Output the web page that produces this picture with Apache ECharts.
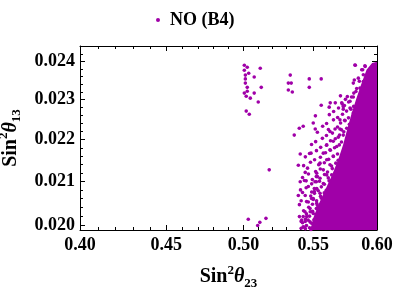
<!DOCTYPE html>
<html><head><meta charset="utf-8">
<script src="https://cdn.jsdelivr.net/npm/echarts@6/dist/echarts.min.js"></script>
<style>html,body{margin:0;padding:0;background:#fff}#c{width:396px;height:290px}</style>
</head><body><div id="c"></div>
<script>
const seriesName = 'NO (B4)';
const xRange = [0.40, 0.60];
const yRange = [0.01989, 0.02442];
const xMajorTicks = [0.40, 0.45, 0.50, 0.55, 0.60];
const xMinorTicks = [0.41,0.42,0.43,0.44,0.46,0.47,0.48,0.49,0.51,0.52,0.53,0.54,0.56,0.57,0.58,0.59];
const yMajorTicks = [0.020, 0.021, 0.022, 0.023, 0.024];
const yMinorTicks = [0.0202,0.0204,0.0206,0.0208,0.0212,0.0214,0.0216,0.0218,0.0222,0.0224,0.0226,0.0228,0.0232,0.0234,0.0236,0.0238,0.0242,0.0244];

// isolated points
const outlierPoints = [
 [0.5006,0.02390],[0.5026,0.02385],[0.5006,0.02377],[0.5116,0.02382],[0.5036,0.02369],
 [0.5013,0.02364],[0.5074,0.02359],[0.5013,0.02354],[0.5013,0.02343],[0.5026,0.02332],
 [0.5123,0.02332],[0.5026,0.02322],[0.5006,0.02317],[0.5074,0.02317],[0.5019,0.02309],
 [0.5047,0.02304],[0.5102,0.02294],[0.5019,0.02271],[0.5040,0.02263],
 [0.5330,0.02364],[0.5316,0.02343],[0.5337,0.02343],[0.5316,0.02325],[0.5345,0.02320],
 [0.5470,0.02354],[0.5470,0.02332],[0.5560,0.02354],[0.5560,0.02286],[0.5629,0.02292],
 [0.5621,0.02281],[0.5825,0.02390],[0.5817,0.02351],[0.5722,0.02289],[0.5730,0.02276],
 [0.5516,0.02259],[0.5425,0.02233],[0.5396,0.02228],[0.5500,0.02241],[0.5515,0.02226],
 [0.5359,0.02211],[0.5179,0.02127],[0.5403,0.02165],[0.5483,0.02167],[0.5389,0.02138],
 [0.5440,0.02121],[0.5523,0.02111],[0.5546,0.02141],
 [0.5403,0.02099],[0.5447,0.02101],[0.5493,0.02104],[0.5523,0.02099],[0.5447,0.02085],
 [0.5508,0.02083],[0.5508,0.02076],[0.5538,0.02078],[0.5389,0.02067],[0.5440,0.02067],
 [0.5410,0.02055],[0.5500,0.02058],[0.5530,0.02045],[0.5523,0.02037],[0.5477,0.02030],
 [0.5493,0.02030],[0.5425,0.02019],[0.5410,0.02008],[0.5440,0.02008],[0.5462,0.02011],
 [0.5523,0.02019],[0.5033,0.02013],[0.5113,0.02006],[0.5098,0.01999],[0.5156,0.02015],
 [0.5410,0.01993],[0.5432,0.01995],[0.5483,0.01990]
];
// points along the edge of the dense cloud
const edgePoints = [
 [0.5762,0.02308],[0.5813,0.02317],[0.5718,0.02292],[0.5730,0.02283],[0.5783,0.02279],
 [0.5809,0.02266],[0.5704,0.02249],[0.5744,0.02247],[0.5666,0.02226],[0.5704,0.02226],
 [0.5627,0.02220],[0.5691,0.02206],[0.5730,0.02211],[0.5652,0.02196],[0.5602,0.02187],
 [0.5679,0.02183],[0.5627,0.02175],[0.5576,0.02167],[0.5652,0.02160],[0.5602,0.02151],
 [0.5551,0.02143],[0.5627,0.02139],[0.5576,0.02127],[0.5526,0.02119],[0.5602,0.02115],
 [0.5551,0.02107],[0.5513,0.02099],[0.5576,0.02095],[0.5526,0.02083],[0.5488,0.02075],
 [0.5551,0.02072],[0.5500,0.02060],[0.5463,0.02052],[0.5526,0.02049],[0.5476,0.02037],
 [0.5438,0.02030],[0.5500,0.02026],[0.5451,0.02019],[0.5413,0.02011],[0.5476,0.02007],
 [0.5425,0.01996],[0.5488,0.01993],
 [0.5822,0.02391],[0.5902,0.02389],[0.5984,0.02389],[0.5884,0.02378],[0.5929,0.02369],
 [0.5849,0.02356],[0.5889,0.02347],[0.5809,0.02343],[0.5862,0.02330],[0.5830,0.02321],
 [0.5783,0.02296],[0.5876,0.02378],[0.5904,0.02387],[0.5889,0.02365],[0.5929,0.02359],
 [0.5857,0.02348],[0.5902,0.02337],[0.5836,0.02329],[0.5876,0.02315],[0.5809,0.02307],
 [0.5849,0.02298]
];
// points filling the band between the scattered front and the solid core
const bandPoints = [
 [0.5708,0.02310],[0.5747,0.02301],[0.5795,0.02307],
 [0.5668,0.02292],[0.5739,0.02285],[0.5772,0.02294],[0.5812,0.02283],
 [0.5655,0.02270],[0.5693,0.02279],[0.5756,0.02271],[0.5790,0.02276],
 [0.5622,0.02262],[0.5686,0.02255],[0.5724,0.02263],[0.5771,0.02254],
 [0.5601,0.02240],[0.5654,0.02249],[0.5709,0.02241],[0.5741,0.02248],[0.5778,0.02238],
 [0.5571,0.02233],[0.5615,0.02225],[0.5685,0.02231],[0.5716,0.02224],[0.5757,0.02228],
 [0.5531,0.02218],[0.5600,0.02210],[0.5646,0.02216],[0.5701,0.02211],[0.5734,0.02219],
 [0.5518,0.02195],[0.5569,0.02203],[0.5631,0.02197],[0.5668,0.02202],[0.5716,0.02194],
 [0.5487,0.02188],[0.5556,0.02181],[0.5600,0.02186],[0.5662,0.02180],[0.5699,0.02187],
 [0.5472,0.02166],[0.5524,0.02173],[0.5593,0.02168],[0.5630,0.02174],[0.5685,0.02165],
 [0.5441,0.02158],[0.5510,0.02151],[0.5554,0.02157],[0.5617,0.02152],[0.5653,0.02159],[0.5690,0.02150],
 [0.5428,0.02137],[0.5479,0.02145],[0.5541,0.02139],[0.5584,0.02144],[0.5639,0.02136],[0.5672,0.02143],
 [0.5457,0.02131],[0.5518,0.02123],[0.5553,0.02129],[0.5608,0.02122],[0.5645,0.02130],
 [0.5420,0.02109],[0.5464,0.02117],[0.5531,0.02111],[0.5585,0.02116],[0.5614,0.02108],[0.5640,0.02115],
 [0.5434,0.02102],[0.5488,0.02094],[0.5547,0.02100],[0.5584,0.02093],[0.5620,0.02101],
 [0.5405,0.02080],[0.5463,0.02088],[0.5526,0.02082],[0.5561,0.02087],[0.5598,0.02079],
 [0.5420,0.02074],[0.5481,0.02066],[0.5509,0.02072],[0.5555,0.02065],[0.5583,0.02073],
 [0.5450,0.02053],[0.5487,0.02060],[0.5525,0.02055],[0.5560,0.02061],
 [0.5397,0.02046],[0.5466,0.02040],[0.5494,0.02047],[0.5532,0.02039],
 [0.5428,0.02032],[0.5449,0.02025],[0.5495,0.02031],[0.5522,0.02024],
 [0.5397,0.02019],[0.5442,0.02013],[0.5472,0.02020],[0.5505,0.02012],
 [0.5420,0.02005],[0.5449,0.01999],[0.5487,0.02004],[0.5510,0.01997],
 [0.5441,0.01992],[0.5472,0.01994]
];
// outline of the solid core of the cloud
const coreOutline = [
 [0.5992,0.02399],[0.5960,0.02396],[0.5915,0.02378],[0.5870,0.02338],[0.5830,0.02300],
 [0.5792,0.02261],[0.5760,0.02224],[0.5728,0.02187],[0.5690,0.02151],[0.5643,0.02115],
 [0.5590,0.02080],[0.5538,0.02045],[0.5500,0.02016],[0.5478,0.01989],[0.6000,0.01989],
 [0.6000,0.02399]
];

const purple = '#a000a8';
const serif = '"Liberation Serif","DejaVu Serif",serif';

function mkX(pos, ticks, len, labels, line) {
  return {
    type: 'log', logBase: 10, position: pos, min: xRange[0], max: xRange[1],
    axisLine: { show: line, lineStyle: { color: '#000', width: 1 } },
    axisTick: { show: true, inside: true, length: len, customValues: ticks, lineStyle: { color: '#000', width: 1 } },
    axisLabel: labels ? { show: true, customValues: ticks, formatter: v => Number(v).toFixed(2), color: '#000', fontFamily: serif, fontWeight: 'bold', fontSize: 18, margin: 6 } : { show: false },
    splitLine: { show: false }, minorTick: { show: false }
  };
}
function mkY(pos, ticks, len, labels, line) {
  return {
    type: 'log', logBase: 10, position: pos, min: yRange[0], max: yRange[1],
    axisLine: { show: line, lineStyle: { color: '#000', width: 1 } },
    axisTick: { show: true, inside: true, length: len, customValues: ticks, lineStyle: { color: '#000', width: 1 } },
    axisLabel: labels ? { show: true, customValues: ticks, formatter: v => Number(v).toFixed(3), color: '#000', fontFamily: serif, fontWeight: 'bold', fontSize: 18, margin: 5 } : { show: false },
    splitLine: { show: false }, minorTick: { show: false }
  };
}

const nameStyle = { color: '#000', fontFamily: serif, fontWeight: 'bold', fontSize: 20, rich: {
  a: { fontFamily: serif, fontWeight: 'bold', fontSize: 20, lineHeight: 26, color: '#000' },
  sup: { fontFamily: serif, fontWeight: 'bold', fontSize: 13, lineHeight: 14, verticalAlign: 'top', color: '#000' },
  th: { fontFamily: serif, fontWeight: 'bold', fontStyle: 'italic', fontSize: 20, lineHeight: 26, color: '#000' },
  sub: { fontFamily: serif, fontWeight: 'bold', fontSize: 13, lineHeight: 12, verticalAlign: 'bottom', color: '#000' }
}};

const xAxes = [
  mkX('bottom', xMajorTicks, 5, true, true),
  mkX('bottom', xMinorTicks, 3, false, false),
  mkX('top', xMajorTicks, 5, false, true),
  mkX('top', xMinorTicks, 3, false, false)
];
Object.assign(xAxes[0], { name: '{a|Sin}{sup|2}{th|θ}{sub|23}', nameLocation: 'middle', nameGap: 34, nameTextStyle: nameStyle });
const yAxes = [
  mkY('left', yMajorTicks, 5, true, true),
  mkY('left', yMinorTicks, 3, false, false),
  mkY('right', yMajorTicks, 5, false, true),
  mkY('right', yMinorTicks, 3, false, false)
];
Object.assign(yAxes[0], { name: '{a|Sin}{sup|2}{th|θ}{sub|13}', nameLocation: 'middle', nameGap: 54, nameTextStyle: nameStyle });

const chart = echarts.init(document.getElementById('c'), null, { renderer: 'canvas' });
chart.setOption({
  backgroundColor: '#fff',
  animation: false,
  grid: { left: 80, right: 19, top: 46, bottom: 60, containLabel: false, outerBoundsMode: 'none' },
  legend: {
    data: [seriesName], top: 6, left: 151, itemWidth: 14, itemHeight: 4,
    icon: 'circle', itemGap: 10,
    textStyle: { color: '#000', fontFamily: serif, fontWeight: 'bold', fontSize: 18 }
  },
  xAxis: xAxes,
  yAxis: yAxes,
  series: [
    {
      name: 'core', type: 'custom', xAxisIndex: 0, yAxisIndex: 0, clip: true, silent: true,
      data: coreOutline,
      renderItem: function (params, api) {
        if (params.dataIndex !== 0) return null;
        const pts = coreOutline.map(p => api.coord(p));
        return { type: 'polygon', shape: { points: pts }, style: { fill: purple, stroke: null } };
      }
    },
    {
      name: seriesName, type: 'scatter', xAxisIndex: 0, yAxisIndex: 0,
      symbol: 'circle', symbolSize: 3.6,
      itemStyle: { color: purple, opacity: 1 },
      data: outlierPoints.concat(edgePoints, bandPoints)
    }
  ]
});
</script></body></html>
